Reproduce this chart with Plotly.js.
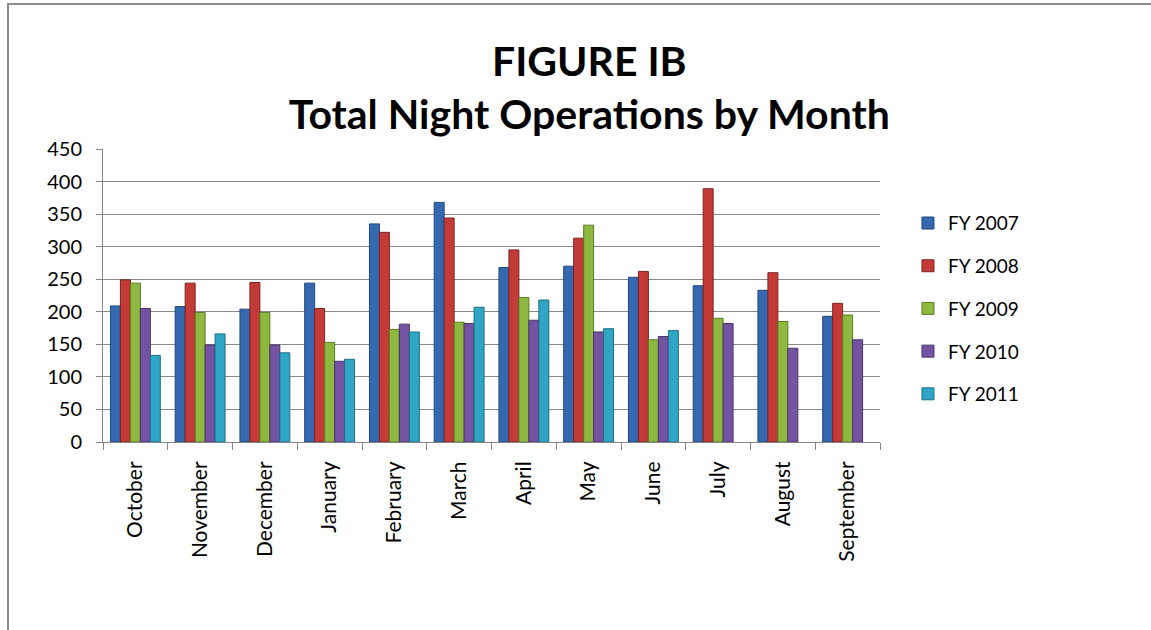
<!DOCTYPE html>
<html>
<head>
<meta charset="utf-8">
<script src="https://cdn.plot.ly/plotly-3.0.1.min.js"></script>
<style>
  html, body { margin: 0; padding: 0; background: #ffffff; }
  #frame { position: absolute; left: 7px; top: 3px; width: 1300px; height: 800px; border: 2px solid #8c8c8c; box-sizing: border-box; }
  #chart { position: absolute; left: 0; top: 0; width: 1151px; height: 630px; }
</style>
</head>
<body>
<div id="frame"></div>
<div id="chart"></div>
<script>
const months = ["October","November","December","January","February","March","April","May","June","July","August","September"];
const seriesNames = ["FY 2007","FY 2008","FY 2009","FY 2010","FY 2011"];
const fy2007 = [209, 208, 204, 244, 335, 368, 268, 270, 253, 240, 233, 193];
const fy2008 = [249, 244, 245, 205, 322, 344, 295, 313, 262, 389, 260, 213];
const fy2009 = [244, 199, 199, 153, 173, 184, 222, 333, 157, 190, 185, 195];
const fy2010 = [205, 149, 149, 124, 181, 182, 187, 169, 162, 182, 144, 157];
const fy2011 = [133, 166, 137, 127, 169, 207, 218, 174, 171, null, null, null];
const seriesValues = [fy2007, fy2008, fy2009, fy2010, fy2011];
const colors = ["#3469B1", "#C43A37", "#8EB83F", "#7453A3", "#2FA6C5"];
const lineColors = ["#1F4878", "#7E2220", "#5C7A24", "#4A3468", "#1C6E84"];

const traces = seriesNames.map((name, i) => ({
  type: "bar",
  name: name,
  legendgroup: name,
  x: months,
  y: seriesValues[i],
  marker: { color: colors[i], line: { color: lineColors[i], width: 1 } },
  hoverinfo: "x+y+name"
}));

const layout = {
  width: 1151,
  height: 630,
  paper_bgcolor: "rgba(0,0,0,0)",
  plot_bgcolor: "rgba(0,0,0,0)",
  margin: { l: 103, r: 271, t: 149, b: 188 },
  font: { family: "Lato, 'Open Sans', sans-serif", color: "#000" },
  title: {
    text: "<b>FIGURE IB</b><br><b>Total Night Operations by Month</b>",
    font: { size: 41, family: "Lato, 'Open Sans', sans-serif", color: "#000" },
    x: 0.512, xanchor: "center",
    yref: "container",
    y: 0.88, yanchor: "top"
  },
  barmode: "group",
  bargap: 0.23,
  bargroupgap: 0,
  xaxis: {
    type: "category",
    tickangle: -90,
    tickfont: { size: 21, color: "#000" },
    showline: true, linecolor: "#868686", linewidth: 1,
    ticks: "outside", tickson: "boundaries", ticklen: 7, tickcolor: "#868686",
    ticklabelstandoff: 10,
    showgrid: false
  },
  yaxis: {
    range: [0, 450],
    dtick: 50,
    tickfont: { size: 20, color: "#000" },
    showline: true, linecolor: "#868686", linewidth: 1,
    ticks: "outside", ticklen: 6, tickcolor: "#868686",
    ticklabelstandoff: 10,
    gridcolor: "#8a8a8a", gridwidth: 1,
    zeroline: false
  },
  legend: {
    x: 1.036, xanchor: "left",
    y: 0.455, yanchor: "middle",
    font: { size: 19, color: "#000" },
    tracegroupgap: 15,
    itemwidth: 30,
    bgcolor: "rgba(0,0,0,0)"
  },
  showlegend: true
};

Plotly.newPlot("chart", traces, layout, { displayModeBar: false, staticPlot: true });
</script>
</body>
</html>
